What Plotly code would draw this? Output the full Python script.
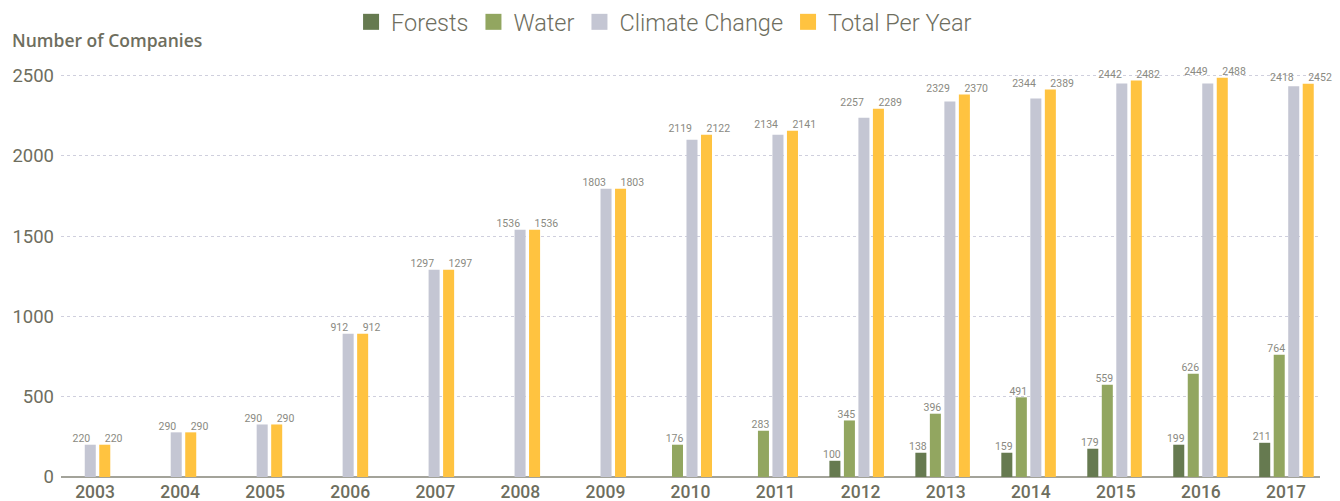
import plotly.graph_objects as go

years = ["2003", "2004", "2005", "2006", "2007", "2008", "2009", "2010",
         "2011", "2012", "2013", "2014", "2015", "2016", "2017"]

# bar heights
forests = [None, None, None, None, None, None, None, None, None,
           101, 151, 151, 176, 201, 213]
water = [None, None, None, None, None, None, None, 201, 288,
         352, 394, 496, 575, 643, 761]
climate = [201, 278, 327, 892, 1290, 1539, 1794, 2100, 2131,
           2237, 2337, 2356, 2449, 2449, 2432]
total = [201, 278, 327, 892, 1290, 1539, 1794, 2131, 2156,
         2293, 2381, 2412, 2468, 2486, 2448]

# printed data labels
forests_lbl = ["", "", "", "", "", "", "", "", "", "100", "138", "159", "179", "199", "211"]
water_lbl = ["", "", "", "", "", "", "", "176", "283", "345", "396", "491", "559", "626", "764"]
climate_lbl = ["220", "290", "290", "912", "1297", "1536", "1803", "2119", "2134",
               "2257", "2329", "2344", "2442", "2449", "2418"]
total_lbl = ["220", "290", "290", "912", "1297", "1536", "1803", "2122", "2141",
             "2289", "2370", "2389", "2482", "2488", "2452"]

names = ["Forests", "Water", "Climate Change", "Total Per Year"]
colors = ["#667A50", "#92A660", "#C4C6D3", "#FFC340"]

FONT = "Roboto"
AXIS_COL = "#6E6E5E"
LBL_COL = "#8A8A82"

BARGAP = 0.325
N_SERIES = 4
SLOT = (1 - BARGAP) / N_SERIES
PX = 1 / 85.96  # one pixel in x units

idx = list(range(len(years)))

fig = go.Figure()
for vals, name, col in zip([forests, water, climate, total], names, colors):
    fig.add_trace(go.Bar(
        x=idx, y=vals, name=name, marker=dict(color=col, line=dict(width=0)),
        showlegend=False, hoverinfo="skip"))


def centers(k, shift_px=0.0):
    return [i + (k - (N_SERIES - 1) / 2) * SLOT + shift_px * PX for i in idx]


lbl_font = dict(family=FONT, size=10.5, color=LBL_COL)
# forests / water labels, centred over their bars
for k, (vals, lbls) in enumerate([(forests, forests_lbl), (water, water_lbl)]):
    fig.add_trace(go.Scatter(
        x=centers(k, -3), y=vals, text=lbls, mode="text", textposition="top center",
        textfont=lbl_font, showlegend=False, hoverinfo="skip", cliponaxis=False))

# climate / total labels, placed side by side above the taller of the pair
pair_top = [max(c, t) for c, t in zip(climate, total)]
fig.add_trace(go.Scatter(
    x=centers(2, 0), y=pair_top, text=climate_lbl, mode="text", textposition="top left",
    textfont=lbl_font, showlegend=False, hoverinfo="skip", cliponaxis=False))
fig.add_trace(go.Scatter(
    x=centers(3, 0), y=pair_top, text=total_lbl, mode="text", textposition="top right",
    textfont=lbl_font, showlegend=False, hoverinfo="skip", cliponaxis=False))

# legend entries
for name, col in zip(names, colors):
    fig.add_trace(go.Scatter(
        x=[None], y=[None], mode="markers", name=name,
        marker=dict(symbol="square", size=16, color=col)))

# invisible trace carrying the year axis
fig.add_trace(go.Scatter(x=idx, y=[0] * len(idx), xaxis="x2", mode="markers",
                         marker=dict(opacity=0), showlegend=False, hoverinfo="skip"))

fig.update_layout(
    width=1340, height=501,
    template="none",
    paper_bgcolor="white", plot_bgcolor="white",
    margin=dict(l=61, r=20, t=60, b=24, autoexpand=False),
    barmode="group", bargap=BARGAP, bargroupgap=0.24,
    font=dict(family=FONT, color=AXIS_COL),
    showlegend=True,
    legend=dict(orientation="h", x=0.479, xanchor="center", y=1.091, yanchor="middle",
                font=dict(family=FONT, size=23.5, color=AXIS_COL, weight=300),
                itemclick=False, bgcolor="rgba(0,0,0,0)"),
    xaxis=dict(range=[-0.256, 14.39], showticklabels=False, showgrid=False,
               zeroline=False, showline=False, ticks="", automargin=False),
    xaxis2=dict(overlaying="x", anchor="y", side="bottom", range=[-0.4, 14.40],
                tickmode="array", tickvals=idx, ticktext=years, ticks="",
                ticklabelstandoff=2,
                showgrid=False, zeroline=False, showline=False, automargin=False,
                tickfont=dict(family=FONT, size=17.5, color=AXIS_COL, weight=500)),
    yaxis=dict(range=[0, 2596], tickmode="array", tickvals=[0, 500, 1000, 1500, 2000, 2500],
               showgrid=True, gridcolor="#CFCFDD", griddash="dot", gridwidth=1,
               zeroline=True, zerolinecolor="#A3A39A", zerolinewidth=2,
               ticks="", ticklabelstandoff=6, automargin=False,
               tickfont=dict(family=FONT, size=18.5, color=AXIS_COL, weight=400)),
    annotations=[dict(text="Number of Companies", xref="paper", yref="paper",
                      x=-0.0405, y=1.048, xanchor="left", yanchor="middle",
                      showarrow=False,
                      font=dict(family="Open Sans", size=17.5, color=AXIS_COL, weight=600))],
)

fig.write_html("out.html", config={"displayModeBar": False},
               post_script="document.body.style.margin='0';")
